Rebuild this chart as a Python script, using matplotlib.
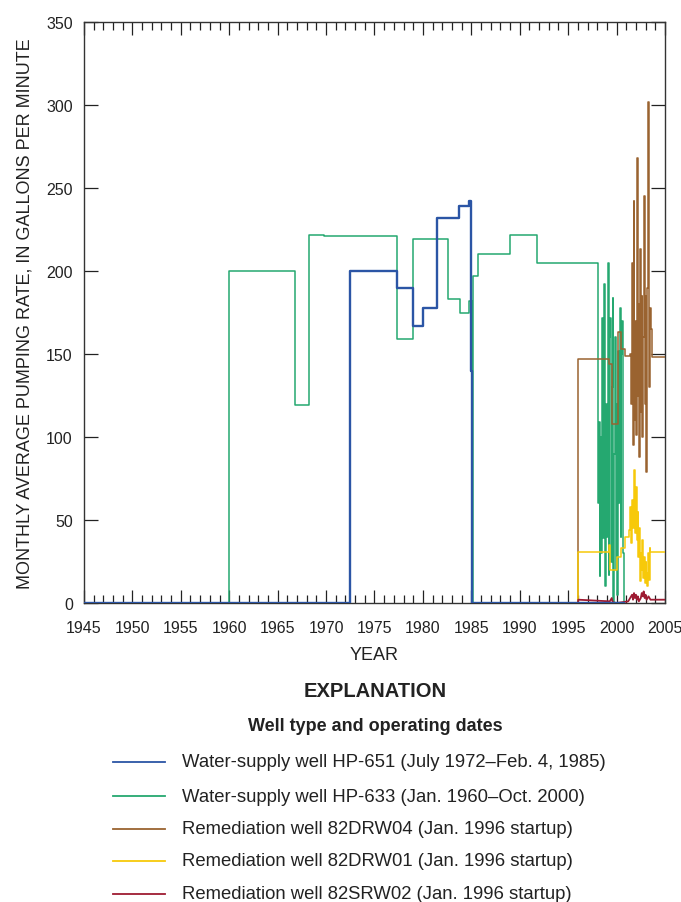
import numpy as np
import matplotlib
matplotlib.use("Agg")
import matplotlib.pyplot as plt
from matplotlib.lines import Line2D
from matplotlib.ticker import MultipleLocator

plt.rcParams['font.family'] = ['Liberation Sans', 'DejaVu Sans']

# water-supply well HP-651 (step values, year of change)
hp651_years = [1945, 1972.5, 1977.3, 1979.0, 1980.0, 1981.5, 1983.7, 1984.8, 1985.0, 1985.05, 1985.1, 2000.75]
hp651_rate = [0, 200, 190, 167, 178, 232, 239, 242, 140, 15, 0, 0]

# water-supply well HP-633
hp633_years = [1945, 1960.0, 1966.75, 1968.2, 1969.8, 1977.3, 1979.0, 1982.6, 1983.8, 1984.8,
               1985.1, 1985.2, 1985.7, 1989.0, 1991.8, 1998.0]
hp633_rate = [0, 200, 119, 222, 221, 159, 219, 183, 175, 182,
              0, 197, 210, 222, 205, 205]
# monthly values, Feb 1998 - Oct 2000
hp633_monthly = [60, 109, 16, 100, 30, 172, 39, 150, 192, 10, 120, 40,
                 205, 17, 160, 172, 25, 130, 184, 0, 90, 160, 20, 120,
                 5, 152, 60, 178, 40, 150, 170, 30, 0]

# remediation well 82DRW04
drw04_years = [1996.0, 1996.0, 1999.2, 1999.5, 2000.1, 2000.5, 2000.9]
drw04_rate = [0, 147, 144, 108, 163, 153, 149]
drw04_monthly = [150, 120, 205, 95, 242, 110, 170, 101, 268, 125, 180, 88,
                 213, 115, 185, 100, 160, 245, 120, 185, 79, 190, 302, 130,
                 160, 178, 165, 148]

# remediation well 82DRW01
drw01_years = [1996.0, 1996.0, 1999.2, 1999.3, 2000.05, 2000.5, 2000.92, 2001.25]
drw01_rate = [0, 31, 35, 20, 28, 33, 40, 44]
drw01_monthly = [58, 36, 62, 45, 52, 80, 42, 70, 38, 55, 28, 45,
                 13, 30, 20, 38, 15, 28, 12, 25, 18, 10, 30, 14,
                 33, 31]

# remediation well 82SRW02
srw02_years = [1996.0, 1996.05, 1999.3, 1999.5, 1999.6, 2000.0, 2001.2, 2001.6, 2001.7, 2001.8,
               2001.9, 2002.0, 2002.1, 2002.2, 2002.3, 2002.5, 2002.6, 2002.7, 2002.8, 2002.9,
               2003.0, 2003.1, 2003.3, 2003.5, 2005.0]
srw02_rate = [0, 2, 1, 3, 0.5, 0, 1, 5, 2, 6,
              3, 5, 2, 4, 1, 3, 6, 4, 7, 3,
              5, 2, 4, 2, 2]

labels = [
    "Water-supply well HP-651 (July 1972\u2013Feb. 4, 1985)",
    "Water-supply well HP-633 (Jan. 1960\u2013Oct. 2000)",
    "Remediation well 82DRW04 (Jan. 1996 startup)",
    "Remediation well 82DRW01 (Jan. 1996 startup)",
    "Remediation well 82SRW02 (Jan. 1996 startup)",
]
colors = ["#2b55a5", "#25a870", "#9a6330", "#f7c90a", "#9e1b32"]


def months(start, vals):
    return [start + i / 12.0 for i in range(len(vals))]


x633 = hp633_years + months(1998 + 1 / 12.0, hp633_monthly)
y633 = hp633_rate + hp633_monthly
x04 = drw04_years + months(2001 + 5 / 12.0, drw04_monthly) + [2005.0]
y04 = drw04_rate + drw04_monthly + [drw04_monthly[-1]]
x01 = drw01_years + months(2001 + 5 / 12.0, drw01_monthly) + [2005.0]
y01 = drw01_rate + drw01_monthly + [drw01_monthly[-1]]

fig = plt.figure(figsize=(6.81, 9.03), dpi=100)
ax = fig.add_axes([0.1233, 0.3311, 0.8532, 0.6434])

ax.plot(x633, y633, drawstyle="steps-post", color=colors[1], lw=1.1, zorder=2)
ax.plot(x04, y04, drawstyle="steps-post", color=colors[2], lw=1.1, zorder=3)
ax.plot(x01, y01, drawstyle="steps-post", color=colors[3], lw=1.1, zorder=3)
ax.plot(srw02_years, srw02_rate, color=colors[4], lw=1.3, zorder=4)
ax.plot(hp651_years, hp651_rate, drawstyle="steps-post", color=colors[0], lw=1.7, zorder=5)

ax.set_xlim(1945, 2005)
ax.set_ylim(0, 350)
ax.xaxis.set_major_locator(MultipleLocator(5))
ax.xaxis.set_minor_locator(MultipleLocator(1))
ax.yaxis.set_major_locator(MultipleLocator(50))
ax.tick_params(axis="x", which="major", direction="in", top=True, length=9.5, width=0.9,
               labelsize=11.5, pad=12, colors="#222222")
ax.tick_params(axis="x", which="minor", direction="in", top=True, length=5.8, width=0.9,
               colors="#222222")
ax.tick_params(axis="y", which="major", direction="in", right=True, length=10, width=0.9,
               labelsize=11.5, pad=8, colors="#222222")
for s in ax.spines.values():
    s.set_color("#333333")
    s.set_linewidth(1.0)

ax.set_xlabel("YEAR", fontsize=13, labelpad=8, color="#222222")
ax.set_ylabel("MONTHLY AVERAGE PUMPING RATE, IN GALLONS PER MINUTE", fontsize=13,
              labelpad=9, color="#222222")

# explanation block
fig.text(0.551, 1 - 692 / 903, "EXPLANATION", ha="center", va="center",
         fontsize=14.5, fontweight="bold", color="#222222")
fig.text(0.551, 1 - 727 / 903, "Well type and operating dates", ha="center", va="center",
         fontsize=13, fontweight="bold", color="#222222")
rows = [763, 797, 830, 862, 895]
for lab, c, r in zip(labels, colors, rows):
    yy = 1 - r / 903
    fig.add_artist(Line2D([113 / 681, 165 / 681], [yy, yy], color=c, lw=1.3))
    fig.text(182 / 681, yy, lab, ha="left", va="center", fontsize=13.3, color="#222222")

fig.savefig("out.png", dpi=100)
